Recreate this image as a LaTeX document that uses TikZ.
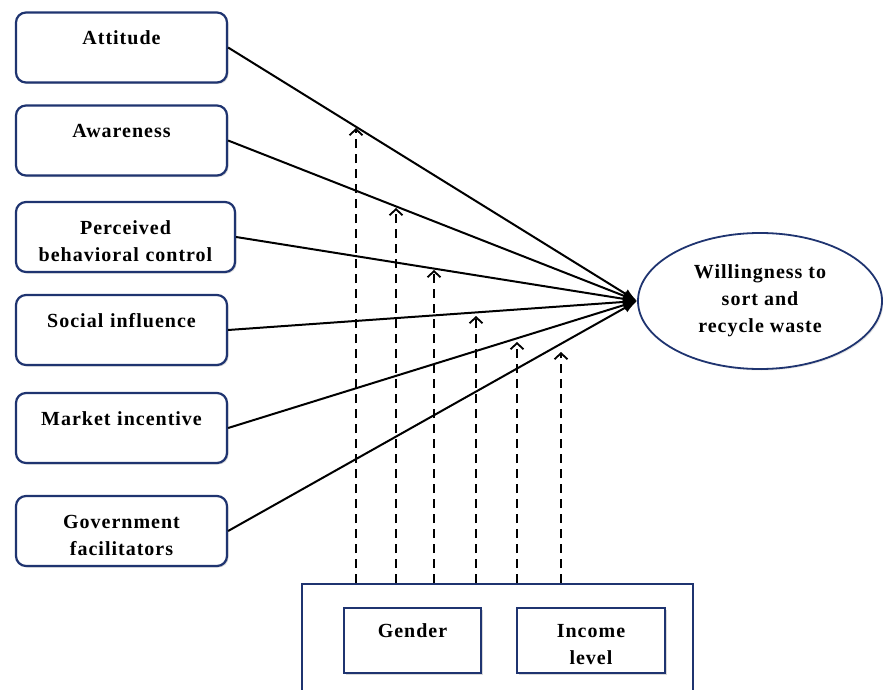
\documentclass[tikz,border=0pt]{standalone}
\usepackage{fontspec}
\setmainfont{Liberation Serif}[LetterSpace=5]
\usetikzlibrary{arrows.meta,shapes.geometric,shadows}
\definecolor{boxblue}{RGB}{31,52,112}

\begin{document}
\begin{tikzpicture}[x=1pt,y=-1pt,line width=2pt,>={Latex[length=14pt,width=10pt]},
  font=\fontsize{20}{27}\selectfont\bfseries,
  factor/.style={draw=boxblue,line width=2.2pt,rounded corners=10pt,fill=white,
    drop shadow={shadow xshift=1.5pt,shadow yshift=-1.5pt,opacity=0.3},
    minimum width=211pt,minimum height=70pt,text width=200pt,align=center,
    inner sep=5pt,text height=27pt,text depth=33pt},
  modbox/.style={draw=boxblue,line width=2.2pt,fill=white,
    drop shadow={shadow xshift=1.5pt,shadow yshift=-1.5pt,opacity=0.3},
    minimum width=137pt,minimum height=65pt,text width=128pt,align=center,
    inner sep=4pt,text height=25pt,text depth=32pt},
  moderation/.style={dash pattern=on 9pt off 6pt,line width=1.8pt,
    -{Straight Barb[length=6pt,width=13pt]}}]
  \useasboundingbox (0,0) rectangle (883,690);
  \node[factor] (att) at (121.5,47.5) {Attitude};
  \node[factor] (awa) at (121.5,140.5) {Awareness};
  \node[factor,minimum width=219pt,text width=209pt] (pbc) at (125.5,237) {Perceived\\behavioral control};
  \node[factor] (soc) at (121.5,330) {Social influence};
  \node[factor] (mkt) at (121.5,428) {Market incentive};
  \node[factor] (gov) at (121.5,531) {Government\\facilitators};
  \node[ellipse,draw=boxblue,line width=1.8pt,fill=white,minimum width=244pt,minimum height=136pt,
    align=center,drop shadow={shadow xshift=1.5pt,shadow yshift=-1.5pt,opacity=0.2}] (wil) at (760,301)
    {Willingness to\\sort and\\recycle waste};
  \node[draw=boxblue,line width=2.2pt,minimum width=391pt,minimum height=120pt,anchor=north] (mod) at (497.5,583) {};
  \node[modbox] (gen) at (412.5,640.5) {Gender};
  \node[modbox,minimum width=148pt,text width=139pt] (inc) at (591,640.5) {Income\\level};
  \foreach \n in {att,awa,pbc,soc,mkt,gov} \draw[->] (\n.east) -- (wil.west);
  \foreach \x/\y [count=\i] in {356/128,396/208,434/270,476/316,517/342,561/352} {
    \coordinate (m\i) at (\x,\y);
    \draw[moderation] (mod.north -| m\i) -- (m\i);
  }
\end{tikzpicture}
\end{document}
